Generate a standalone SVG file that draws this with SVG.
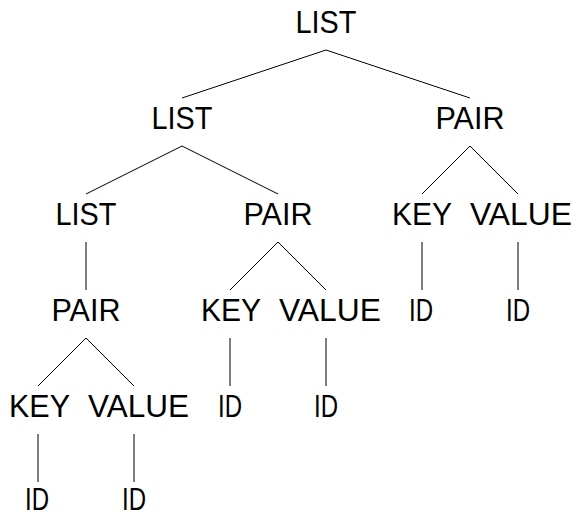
<svg xmlns="http://www.w3.org/2000/svg" width="577" height="517" viewBox="0 0 577 517">
<style>
text{font-family:"Liberation Sans",Arial,sans-serif;font-size:32px;fill:#000;text-anchor:middle}
.e line{stroke:#000;stroke-width:1}
</style>
<rect width="577" height="517" fill="#fff"/>
<g class="e" id="edges">
<line x1="326" y1="50" x2="182" y2="98"/>
<line x1="326" y1="50" x2="470" y2="98"/>
<line x1="182" y1="146" x2="86" y2="194"/>
<line x1="182" y1="146" x2="278" y2="194"/>
<line x1="470" y1="146" x2="422" y2="194"/>
<line x1="470" y1="146" x2="518" y2="194"/>
<line x1="86" y1="242" x2="86" y2="290"/>
<line x1="278" y1="242" x2="230" y2="290"/>
<line x1="278" y1="242" x2="326" y2="290"/>
<line x1="422" y1="242" x2="422" y2="290"/>
<line x1="518" y1="242" x2="518" y2="290"/>
<line x1="86" y1="338" x2="38" y2="386"/>
<line x1="86" y1="338" x2="134" y2="386"/>
<line x1="230" y1="338" x2="230" y2="386"/>
<line x1="326" y1="338" x2="326" y2="386"/>
<line x1="38" y1="434" x2="38" y2="482"/>
<line x1="134" y1="434" x2="134" y2="482"/>
</g>
<g id="n1"><text x="326" y="32.5" textLength="61" lengthAdjust="spacingAndGlyphs">LIST</text></g>
<g id="n2"><text x="182" y="128.5" textLength="61" lengthAdjust="spacingAndGlyphs">LIST</text></g>
<g id="n3"><text x="470" y="128.5" textLength="69" lengthAdjust="spacingAndGlyphs">PAIR</text></g>
<g id="n4"><text x="86" y="224.5" textLength="61" lengthAdjust="spacingAndGlyphs">LIST</text></g>
<g id="n5"><text x="278" y="224.5" textLength="69" lengthAdjust="spacingAndGlyphs">PAIR</text></g>
<g id="n6"><text x="422" y="224.5" textLength="60" lengthAdjust="spacingAndGlyphs">KEY</text></g>
<g id="n7"><text x="521" y="224.5" textLength="102" lengthAdjust="spacingAndGlyphs">VALUE</text></g>
<g id="n8"><text x="86" y="320.5" textLength="69" lengthAdjust="spacingAndGlyphs">PAIR</text></g>
<g id="n9"><text x="231" y="320.5" textLength="60" lengthAdjust="spacingAndGlyphs">KEY</text></g>
<g id="n10"><text x="330" y="320.5" textLength="102" lengthAdjust="spacingAndGlyphs">VALUE</text></g>
<g id="n11"><text x="421" y="320.5" textLength="24" lengthAdjust="spacingAndGlyphs">ID</text></g>
<g id="n12"><text x="518" y="320.5" textLength="24" lengthAdjust="spacingAndGlyphs">ID</text></g>
<g id="n13"><text x="39.5" y="416.5" textLength="61" lengthAdjust="spacingAndGlyphs">KEY</text></g>
<g id="n14"><text x="138.5" y="416.5" textLength="101" lengthAdjust="spacingAndGlyphs">VALUE</text></g>
<g id="n15"><text x="230" y="416.5" textLength="24" lengthAdjust="spacingAndGlyphs">ID</text></g>
<g id="n16"><text x="326" y="416.5" textLength="24" lengthAdjust="spacingAndGlyphs">ID</text></g>
<g id="n17"><text x="37" y="510" textLength="24" lengthAdjust="spacingAndGlyphs">ID</text></g>
<g id="n18"><text x="134" y="510" textLength="24" lengthAdjust="spacingAndGlyphs">ID</text></g>
</svg>
